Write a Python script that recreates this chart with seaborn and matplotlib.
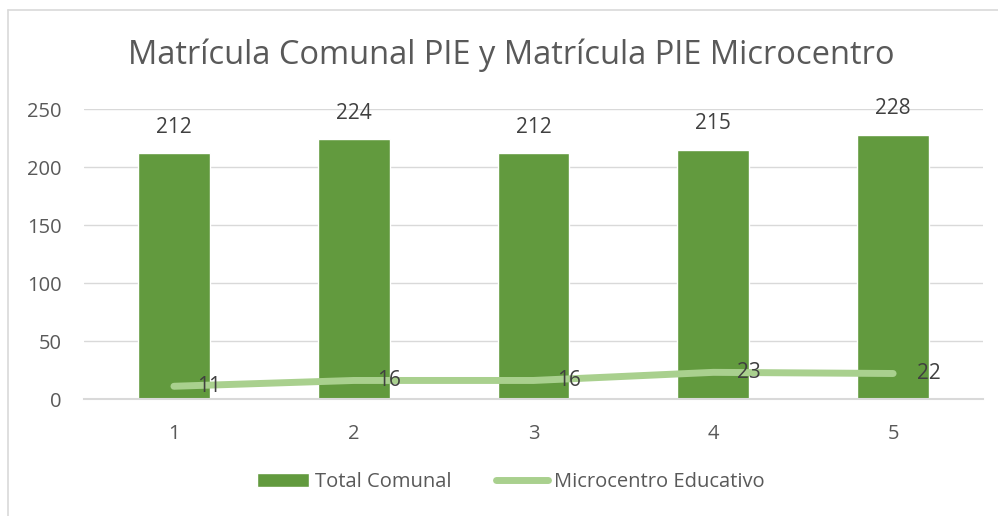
import numpy as np
import pandas as pd
import matplotlib
matplotlib.use("Agg")
import matplotlib.pyplot as plt
from matplotlib.lines import Line2D
import seaborn as sns

# datos
categorias = ["1", "2", "3", "4", "5"]
total_comunal = [212, 224, 212, 215, 228]
microcentro = [11, 16, 16, 23, 22]
titulo = "Matrícula Comunal PIE y Matrícula PIE Microcentro"

df = pd.DataFrame({"cat": categorias, "total": total_comunal, "micro": microcentro})

sns.set_style("white")
plt.rcParams["font.family"] = ["Open Sans", "DejaVu Sans"]

verde = "#629A3E"
verde_claro = "#A9D08E"
gris_txt = "#595959"

fig = plt.figure(figsize=(9.98, 5.16), dpi=100)
ax = fig.add_axes([0.0842, 0.2267, 0.9008, 0.562])

sns.barplot(data=df, x="cat", y="total", color=verde, width=0.4, saturation=1,
            ax=ax, label="Total Comunal", zorder=2)
sns.lineplot(x=np.arange(len(categorias)), y=df["micro"], color=verde_claro, linewidth=5,
             ax=ax, label="Microcentro Educativo", zorder=3, solid_capstyle="round")

# etiquetas de datos
ax.bar_label(ax.containers[0], padding=11, fontsize=15, color="#404040")
for i, v in enumerate(microcentro):
    ax.annotate(str(v), (i, v), xytext=(17, 0), textcoords="offset points",
                ha="left", va="center", fontsize=15, color="#404040", zorder=4)

ax.set_xlim(-0.5, 4.5)
ax.set_ylim(0, 250)
ax.set_yticks(range(0, 251, 50))
ax.grid(axis="y", color="#D9D9D9", linewidth=1, zorder=0)
ax.set_axisbelow(True)
for s in ["top", "right", "left"]:
    ax.spines[s].set_visible(False)
ax.spines["bottom"].set_color("#D9D9D9")
ax.spines["bottom"].set_linewidth(1.5)
ax.tick_params(axis="both", length=0, labelsize=14.5, labelcolor=gris_txt)
ax.tick_params(axis="y", pad=16)
ax.tick_params(axis="x", pad=18)
ax.set_xlabel("")
ax.set_ylabel("")

# leyenda: barras primero
handles, labels = ax.get_legend_handles_labels()
orden = [labels.index("Total Comunal"), labels.index("Microcentro Educativo")]
ax.legend([handles[i] for i in orden], [labels[i] for i in orden],
          loc="center", bbox_to_anchor=(0.512, 0.066), bbox_transform=fig.transFigure,
          ncol=2, frameon=False, fontsize=14.5, labelcolor=gris_txt,
          handlelength=2.6, handletextpad=0.3, columnspacing=2.2)

fig.text(0.512, 0.893, titulo, ha="center", va="center", fontsize=23.5, color=gris_txt)

# borde del area del grafico
fig.add_artist(Line2D([0.008, 0.008], [0, 0.9806], color="#D9D9D9", linewidth=1.2))
fig.add_artist(Line2D([0.008, 1], [0.9806, 0.9806], color="#D9D9D9", linewidth=1.2))

fig.savefig("out.png", dpi=100)
